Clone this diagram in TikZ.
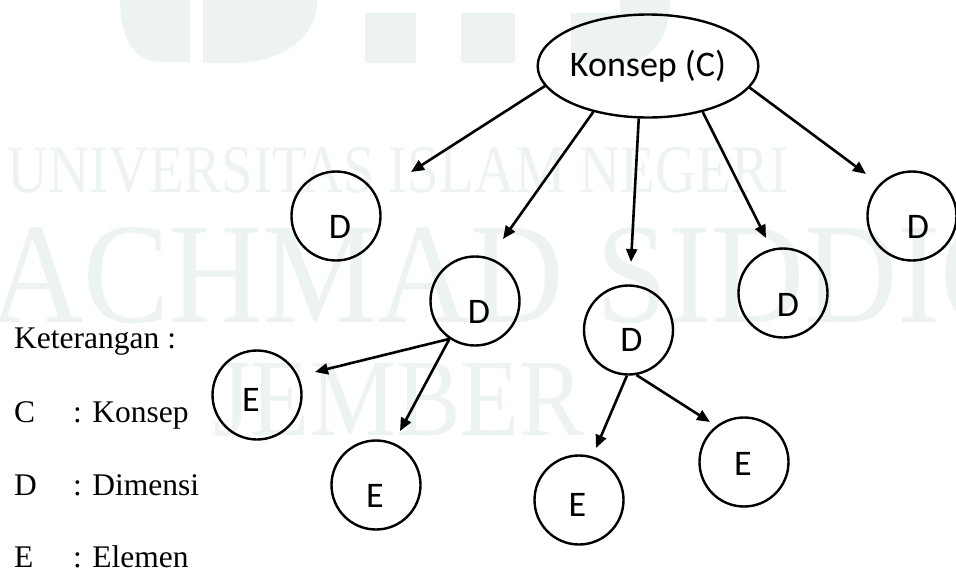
\documentclass[tikz,border=0pt]{standalone}
\usepackage{graphicx}
\usepackage{fontspec}
\setmainfont{Liberation Serif}
\newfontfamily\calib{Carlito}
\usetikzlibrary{arrows.meta,shapes.geometric}
\definecolor{wmark}{RGB}{236,243,241}

\begin{document}
\begin{tikzpicture}[x=1pt,y=-1pt,
  conc/.style={ellipse,draw,line width=2.4pt,minimum width=206pt,minimum height=103pt,
    inner sep=0pt,font=\calib\fontsize{36}{40}\selectfont},
  circ/.style={circle,draw,line width=2.4pt,minimum size=89pt,inner sep=0pt},
  lbl/.style={font=\calib\fontsize{36}{40}\selectfont,inner sep=0pt},
  arr/.style={-{Triangle[length=13pt,width=11pt]},line width=2.6pt},
  legend/.style={anchor=base west,inner sep=0pt,font=\fontsize{31.5}{36}\selectfont},
  wm/.style={anchor=base west,inner sep=0pt,text=wmark}
]
\useasboundingbox (0,0) rectangle (956,571);

% faint background watermark
\begin{scope}
  \clip (0,0) rectangle (956,571);
  \fill[wmark] (120,0) -- (190,0) -- (190,62) -- (162,62)
    .. controls (135,62) and (120,40) .. (120,0) -- cycle;
  \fill[wmark] (203,0) -- (317,0) .. controls (317,40) and (280,63) .. (232,63)
    -- (203,63) -- cycle;
  \fill[wmark] (365,13) rectangle (416,63);
  \fill[wmark] (461,13) rectangle (515,63);
  \fill[wmark] (571,13) -- (571,63) -- (620,63)
    .. controls (652,63) and (670,38) .. (670,0) -- (620,0) -- (620,13) -- cycle;
  \node[wm,font=\fontsize{68}{70}\selectfont] (wm1) at (7,192)
    {\scalebox{0.835}[1]{UNIVERSITAS ISLAM NEGERI}};
  \node[wm,font=\fontsize{143.5}{145}\selectfont] (wm2) at (-10,322)
    {\scalebox{0.9}[1]{ACHMAD SIDDIQ}};
  \node[wm,font=\fontsize{110}{112}\selectfont] (wm3) at (213,435)
    {\scalebox{0.88}[1]{JEMBER}};
\end{scope}

% concept
\node[conc] (c) at (648,66) {Konsep (C)};

% dimensions
\node[circ,label={[lbl,xshift=4pt,yshift=-11pt]center:D}] (d1) at (336,216) {};
\node[circ,label={[lbl,xshift=4pt,yshift=-10.5pt]center:D}] (d2) at (475,301) {};
\node[circ,label={[lbl,xshift=3pt,yshift=-10pt]center:D}] (d3) at (628.5,330) {};
\node[circ,label={[lbl,xshift=5pt,yshift=-11.5pt]center:D}] (d4) at (783,293) {};
\node[circ,label={[lbl,xshift=6pt,yshift=-11pt]center:D}] (d5) at (912,216) {};

% elements
\node[circ,label={[lbl,xshift=-6pt,yshift=-5pt]center:E}] (e1) at (257,395) {};
\node[circ,label={[lbl,xshift=-1pt,yshift=-11pt]center:E}] (e2) at (376,485) {};
\node[circ,label={[lbl,xshift=-1.5pt,yshift=-5pt]center:E}] (e3) at (579,500) {};
\node[circ,label={[lbl,xshift=-1pt,yshift=-2pt]center:E}] (e4) at (744,462) {};

% arrow tips
\coordinate (t1) at (411,172);
\coordinate (t2) at (503,239);
\coordinate (t3) at (631,262);
\coordinate (t4) at (766,238);
\coordinate (t5) at (866,174);
\coordinate (t6) at (315,372);
\coordinate (t7) at (400,431);
\coordinate (t8) at (596,448);
\coordinate (t9) at (710,422);

\draw[arr] (c.191) -- (t1);
\draw[arr] (c.220) -- (t2);
\draw[arr] (c.260) -- (t3);
\draw[arr] (c.320) -- (t4);
\draw[arr] (c.348) -- (t5);
\draw[arr] (d2.236) -- (t6);
\draw[arr] (d2.236) -- (t7);
\draw[arr] (d3.268) -- (t8);
\draw[arr] (d3.280) -- (t9);

% legend
\node[legend] (kt) at (14,348) {Keterangan :};
\node[legend] (lc) at (14,422) {C};
\node[legend] (lcx) at (73,422) {: Konsep};
\node[legend] (ld) at (14,495) {D};
\node[legend] (ldx) at (73,495) {: Dimensi};
\node[legend] (le) at (14,567) {E};
\node[legend] (lex) at (73,567) {: Elemen};
\end{tikzpicture}
\end{document}
